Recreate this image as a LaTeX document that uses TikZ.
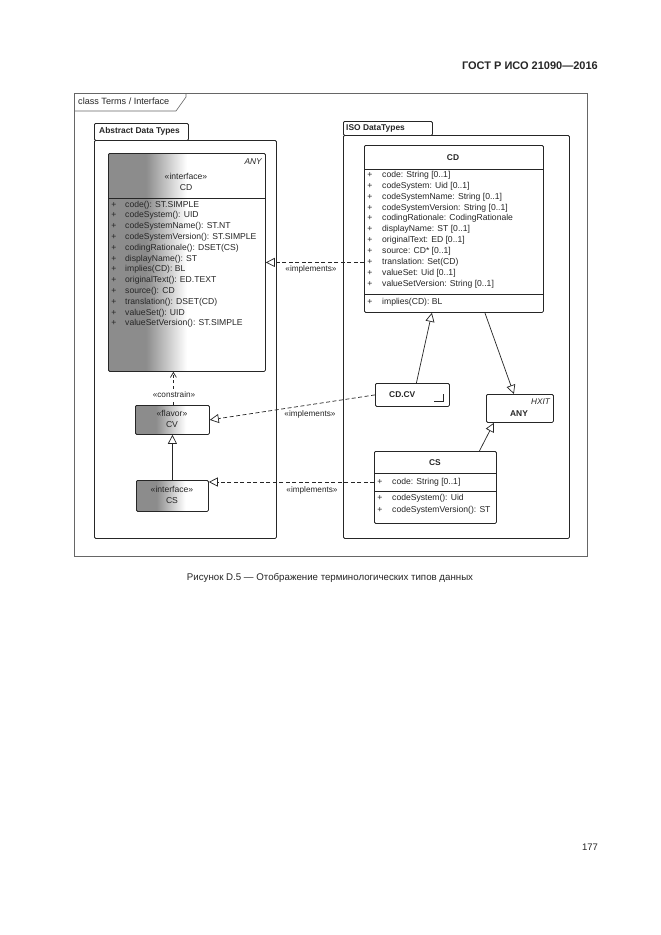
\documentclass[tikz,border=0pt]{standalone}
\usepackage{fontspec}
\setmainfont{Liberation Sans}
\usetikzlibrary{arrows.meta,calc}
\definecolor{fg}{gray}{0.55}
\definecolor{ln}{gray}{0.15}
\pgfdeclarehorizontalshading{bigfade}{100bp}{color(0bp)=(fg); color(37bp)=(fg); color(50bp)=(white); color(100bp)=(white)}
\pgfdeclarehorizontalshading{smallfade}{100bp}{color(0bp)=(fg); color(39bp)=(fg); color(59bp)=(white); color(100bp)=(white)}
\newcommand{\bx}[6]{\node[box,#6,minimum width=#4pt-#2pt,minimum height=#5pt-#3pt] (#1) at (#2,#3) {};}
\begin{document}
\begin{tikzpicture}[x=1pt,y=-1pt,
  every node/.style={font=\fontsize{8.6}{10}\selectfont, inner sep=0pt, text height=6pt, text depth=2pt, text=black!85},
  box/.style={draw=ln, line width=0.8pt, rounded corners=1.2pt, anchor=north west, inner sep=0pt},
  pkg/.style={draw=ln, line width=0.8pt, anchor=north west, inner sep=0pt},
  frame/.style={draw=black!60, line width=0.6pt},
  sep/.style={draw=ln, line width=0.7pt},
  impl/.style={draw=ln, line width=0.7pt, dash pattern=on 4pt off 2.5pt, -{Triangle[open,length=9pt,width=9pt,fill=white]}},
  gen/.style={draw=ln, line width=0.7pt, -{Triangle[open,length=9pt,width=9pt,fill=white]}},
  dep/.style={draw=ln, line width=0.7pt, dash pattern=on 3pt off 2.5pt, -{Straight Barb[length=5pt,width=6pt]}},
  lbl/.style={font=\fontsize{8.2}{10}\selectfont},
  bold/.style={font=\bfseries\fontsize{8.4}{10}\selectfont}
]
\useasboundingbox (0,0) rectangle (661,935);
\fill[white] (0,0) rectangle (661,935);

% page texts
\node[anchor=east, font=\bfseries\fontsize{11}{13}\selectfont] (hdr) at (598,67) {ГОСТ Р ИСО 21090—2016};
\node[font=\fontsize{9.7}{11}\selectfont] (cap) at (330,578) {Рисунок D.5 — Отображение терминологических типов данных};
\node[font=\fontsize{9.5}{11}\selectfont] (pg) at (590,848) {177};

% outer frame
\draw[frame] (74,93) rectangle (587,556);
\draw[frame] (74,111) -- (176,111) -- (186,97) -- (186,93);
\node[anchor=west, font=\fontsize{9.1}{10}\selectfont] (ftitle) at (78,102) {class Terms / Interface};

% packages
\bx{absTab}{94}{123}{188}{140}{pkg}
\bx{absBody}{94}{140}{276}{538}{pkg}
\node[anchor=west, bold] (absT) at (99,131) {Abstract Data Types};
\bx{isoTab}{343}{121}{432}{135}{pkg}
\bx{isoBody}{343}{135}{569}{538}{pkg}
\node[anchor=west, bold] (isoT) at (346,128) {ISO DataTypes};

% left CD interface
\bx{cdL}{108}{153}{265}{371}{box, shade, shading=bigfade}
\draw[sep] (108,198) -- (265,198);
\node[anchor=east, font=\itshape\fontsize{8.4}{10}\selectfont] (cdLany) at (262,162) {ANY};
\node (cdLst) at (186,177) {«interface»};
\node (cdLn) at (186,188) {CD};
\foreach [count=\i from 0] \t in {{code(): ST.SIMPLE},{codeSystem(): UID},{codeSystemName(): ST.NT},{codeSystemVersion(): ST.SIMPLE},{codingRationale(): DSET(CS)},{displayName(): ST},{implies(CD): BL},{originalText(): ED.TEXT},{source(): CD},{translation(): DSET(CD)},{valueSet(): UID},{valueSetVersion(): ST.SIMPLE}}{
  \node (lp\i) at (114,205+10.8*\i) {+};
  \node[anchor=west] (la\i) at (125,205+10.8*\i) {\t};
}

% CV flavor
\bx{cv}{135}{405}{209}{434}{box, shade, shading=smallfade}
\node (cvst) at (172,414) {«flavor»};
\node (cvn) at (172,425) {CV};

% CS interface (left)
\bx{csI}{136}{480}{208}{511}{box, shade, shading=smallfade}
\node (csIst) at (172,490) {«interface»};
\node (csIn) at (172,501) {CS};

% right CD class
\bx{cdR}{364}{145}{543}{312}{box, fill=white}
\node[bold] (cdRn) at (453,158) {CD};
\draw[sep] (364,169) -- (543,169);
\foreach [count=\i from 0] \t in {{code: String [0..1]},{codeSystem: Uid [0..1]},{codeSystemName: String [0..1]},{codeSystemVersion: String [0..1]},{codingRationale: CodingRationale},{displayName: ST [0..1]},{originalText: ED [0..1]},{source: CD* [0..1]},{translation: Set(CD)},{valueSet: Uid [0..1]},{valueSetVersion: String [0..1]}}{
  \node (rp\i) at (370,175.5+10.85*\i) {+};
  \node[anchor=west] (ra\i) at (382,175.5+10.85*\i) {\t};
}
\draw[sep] (364,294) -- (543,294);
\node (rpm) at (370,302) {+};
\node[anchor=west] (ram) at (382,302) {implies(CD): BL};

% CD.CV
\bx{cdcv}{375}{383}{449}{406}{box, fill=white}
\node[anchor=west, bold] (cdcvn) at (389,395) {CD.CV};
\draw[ln, line width=0.6pt] (434,401) -- (443,401) -- (443,394);

% ANY
\bx{any}{486}{394}{553}{422}{box, fill=white}
\node[anchor=east, font=\itshape\fontsize{8.2}{10}\selectfont] (anyst) at (550,402) {HXIT};
\node[bold] (anyn) at (519,414) {ANY};

% CS class
\bx{csC}{374}{451}{496}{523}{box, fill=white}
\node[bold] (csCn) at (435,463) {CS};
\draw[sep] (374,473) -- (496,473);
\node (cp0) at (380,482) {+};
\node[anchor=west] (ca0) at (392,482) {code: String [0..1]};
\draw[sep] (374,491) -- (496,491);
\node (cp1) at (380,498.5) {+};
\node[anchor=west] (ca1) at (392,498.5) {codeSystem(): Uid};
\node (cp2) at (380,510) {+};
\node[anchor=west] (ca2) at (392,510) {codeSystemVersion(): ST};

% connectors
\draw[impl] (cdR.west |- cdL.east) -- (cdL.east);
\node[lbl] (im1) at (311,269) {«implements»};
\draw[impl] (cdcv.west) -- (cv.east);
\node[lbl] (im2) at (310,414) {«implements»};
\draw[impl] (csC.west |- ca0.west) -- (csI.east |- ca0.west);
\node[lbl] (im3) at (312,490) {«implements»};

\draw[dep] ([xshift=1pt]cv.north) -- ([xshift=1pt]cv.north |- cdL.south);
\node[lbl, fill=white, inner ysep=1pt] (cons) at (174,395) {«constrain»};
\draw[gen] (csI.north) -- (csI.north |- cv.south);

\draw[gen] ([xshift=4pt]cdcv.north) -- ([xshift=-22pt]cdR.south);
\draw[gen] ([xshift=31pt]cdR.south) -- ([xshift=-6pt]any.north);
\draw[gen] ([xshift=44pt]csC.north) -- ([xshift=-26pt]any.south);
\end{tikzpicture}
\end{document}
